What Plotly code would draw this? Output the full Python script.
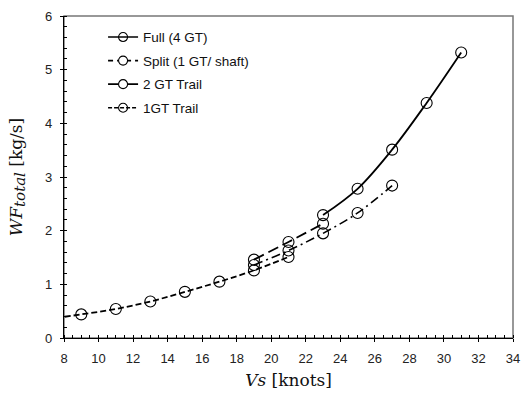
import plotly.graph_objects as go

# ---- data ----
full_x = [23, 25, 27, 29, 31]
full_y = [2.29, 2.78, 3.51, 4.38, 5.32]

split_x = [19, 21, 23]
split_y = [1.46, 1.79, 2.13]

trail2_x = [19, 21, 23, 25, 27]
trail2_y = [1.36, 1.63, 1.95, 2.33, 2.84]

trail1_x = [7, 9, 11, 13, 15, 17, 19, 21]
trail1_y = [0.35, 0.44, 0.54, 0.68, 0.86, 1.05, 1.26, 1.51]

series_names = ["Full (4 GT)", "Split (1 GT/ shaft)", "2 GT Trail", "1GT Trail"]

x_ticks = list(range(8, 35, 2))
y_ticks = list(range(0, 7))

MS = 11
fig = go.Figure()

# plotted curves (styles as seen on the plot)
fig.add_trace(go.Scatter(x=trail1_x, y=trail1_y, mode="lines+markers", showlegend=False,
                         line=dict(color="black", width=1.8, dash="6px,3px", shape="spline"),
                         marker=dict(symbol="circle-open", size=MS, color="black", line=dict(width=1.1))))
fig.add_trace(go.Scatter(x=trail2_x, y=trail2_y, mode="lines+markers", showlegend=False,
                         line=dict(color="black", width=1.6, dash="9px,4px,2px,4px", shape="spline"),
                         marker=dict(symbol="circle-open", size=MS, color="black", line=dict(width=1.1))))
fig.add_trace(go.Scatter(x=split_x, y=split_y, mode="lines+markers", showlegend=False,
                         line=dict(color="black", width=1.8, dash="11px,5px", shape="spline"),
                         marker=dict(symbol="circle-open", size=MS, color="black", line=dict(width=1.1))))
fig.add_trace(go.Scatter(x=full_x, y=full_y, mode="lines+markers", showlegend=False,
                         line=dict(color="black", width=1.8, shape="spline"),
                         marker=dict(symbol="circle-open", size=MS, color="black", line=dict(width=1.1))))

# legend entries (styles as drawn in the reference legend)
leg_styles = [
    dict(dash="solid", sym="circle-open"),
    dict(dash="5px,4px", sym="circle"),
    dict(dash="solid", sym="circle"),
    dict(dash="4px,2px", sym="circle-open"),
]
for i, (name, st) in enumerate(zip(series_names, leg_styles)):
    fig.add_trace(go.Scatter(x=[None], y=[None], mode="lines+markers", name=name,
                             legendgroup=f"g{i}",
                             line=dict(color="black", width=1.6, dash=st["dash"]),
                             marker=dict(symbol=st["sym"], size=9, color="white" if st["sym"] == "circle" else "black",
                                         line=dict(width=1.1, color="black"))))

# dummy trace on overlay axes so major ticks cross the axis line
fig.add_trace(go.Scatter(x=[None], y=[None], xaxis="x2", yaxis="y2", showlegend=False, hoverinfo="skip"))

tick_font = dict(family="Liberation Sans, Arial, sans-serif", size=13, color="#222")
title_font = dict(family="DejaVu Serif, serif", size=17, color="#111")

fig.update_layout(
    width=529, height=408,
    margin=dict(l=64, r=9, t=13, b=70),
    paper_bgcolor="white", plot_bgcolor="white",
    showlegend=True,
    legend=dict(x=0.087, y=0.982, xanchor="left", yanchor="top", bgcolor="rgba(0,0,0,0)",
                font=dict(family="Liberation Sans, Arial, sans-serif", size=13.5, color="#111"),
                tracegroupgap=3, itemwidth=30),
    xaxis=dict(range=[8, 34], tickvals=x_ticks, showgrid=False, zeroline=False,
               showline=True, linecolor="black", linewidth=1.3,
               ticks="outside", ticklen=3, tickwidth=1.2, tickcolor="black",
               ticklabelstandoff=5,
               minor=dict(dtick=0.5, ticks="inside", ticklen=3, tickcolor="black", tickwidth=1),
               tickfont=tick_font,
               title=dict(text="<i>Vs</i> [knots]", font=title_font, standoff=9)),
    yaxis=dict(range=[0, 6], tickvals=y_ticks, showgrid=False, zeroline=False,
               showline=True, linecolor="black", linewidth=1.3,
               ticks="outside", ticklen=3, tickwidth=1.2, tickcolor="black",
               ticklabelstandoff=5,
               minor=dict(dtick=0.2, ticks="inside", ticklen=3, tickcolor="black", tickwidth=1),
               tickfont=tick_font,
               title=dict(text="<i>WF</i><sub><span style='font-size:15px'><i>total</i></span></sub> [kg/s]",
                          font=title_font, standoff=18)),
    xaxis2=dict(overlaying="x", matches="x", range=[8, 34], tickvals=x_ticks, showticklabels=False,
                ticks="inside", ticklen=3, tickwidth=1.2, tickcolor="black", showgrid=False, zeroline=False),
    yaxis2=dict(overlaying="y", matches="y", range=[0, 6], tickvals=y_ticks, showticklabels=False,
                ticks="inside", ticklen=3, tickwidth=1.2, tickcolor="black", showgrid=False, zeroline=False),
    shapes=[dict(type="rect", xref="paper", yref="paper", x0=0, x1=1, y0=0, y1=1,
                 line=dict(color="#777", width=1.5), layer="below")],
)

fig.write_html("out.html", config={"displayModeBar": False},
               post_script="document.body.style.margin='0';")
